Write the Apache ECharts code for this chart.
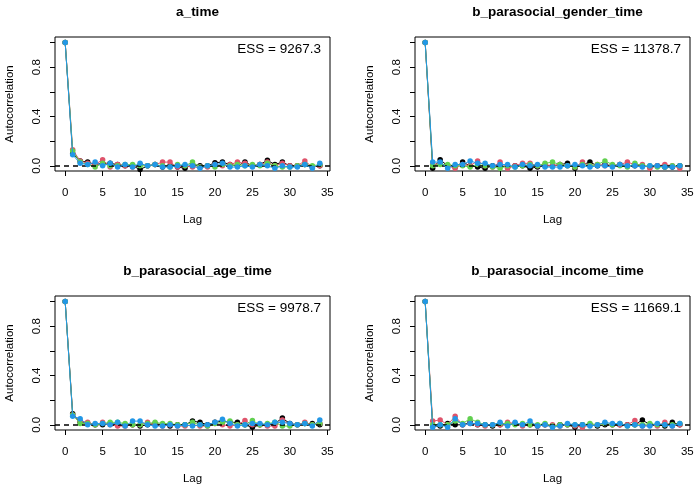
<!DOCTYPE html>
<html>
  <head>
    <meta charset="utf-8" />
    <title>Autocorrelation</title>
    <script src="https://cdn.jsdelivr.net/npm/echarts@6.0.0/dist/echarts.min.js"></script>
    <style>
      html, body { margin: 0; padding: 0; background: #fff; }
    </style>
  </head>
  <body>
    <div id="chart" style="width: 700px; height: 492px"></div>
    <script>
      /* ======= data ======= */
      var lags = [];
      for (var k = 0; k <= 34; k++) lags.push(k);

      var panelTitles = [
        "a_time",
        "b_parasocial_gender_time",
        "b_parasocial_age_time",
        "b_parasocial_income_time",
      ];
      var essLabels = ["ESS = 9267.3", "ESS = 11378.7", "ESS = 9978.7", "ESS = 11669.1"];
      var chainColors = ["#000000", "#DF536B", "#61D04F", "#2297E6"];
      var xTicks = [0, 5, 10, 15, 20, 25, 30, 35];
      var yTicks = [0, 0.2, 0.4, 0.6, 0.8, 1.0];
      var yLabels = [0, 0.4, 0.8];

      // a_time, chains 1-4
      var aTime = [
        [1, 0.10, 0.04, 0.03, 0.01, 0.02, 0.02, 0.01, 0.00, 0.00, -0.03, 0.00, 0.01, -0.01, 0.00, -0.01, -0.02, 0.01, 0.00, 0.00, 0.025, 0.03, 0.01, 0.00, 0.03, 0.00, 0.01, 0.045, 0.01, 0.03, 0.00, 0.00, 0.01, -0.01, 0.00],
        [1, 0.13, 0.04, 0.02, 0.01, 0.05, -0.01, 0.01, 0.00, -0.01, 0.01, 0.00, 0.01, 0.03, 0.03, -0.01, 0.00, -0.01, -0.01, -0.01, 0.01, 0.00, 0.01, 0.03, 0.02, 0.00, 0.01, 0.03, 0.00, 0.02, 0.00, 0.00, 0.04, -0.01, 0.00],
        [1, 0.12, 0.03, 0.01, -0.01, 0.02, 0.00, 0.00, 0.01, 0.01, 0.00, 0.00, 0.01, 0.00, -0.01, 0.01, 0.00, 0.03, -0.01, 0.00, -0.01, 0.01, 0.00, 0.01, 0.00, 0.01, 0.00, 0.02, 0.00, -0.01, -0.01, 0.00, 0.01, 0.00, 0.01],
        [1, 0.09, 0.02, 0.01, 0.03, 0.00, 0.02, -0.01, 0.01, -0.01, 0.02, 0.00, 0.01, -0.01, -0.01, 0.00, 0.01, 0.00, -0.02, 0.00, 0.01, 0.02, -0.01, -0.01, 0.00, -0.01, 0.01, 0.00, -0.02, 0.00, -0.01, -0.01, 0.01, -0.02, 0.02],
      ];
      // b_parasocial_gender_time
      var genderTime = [
        [1, -0.02, 0.05, 0.00, -0.01, 0.03, 0.00, -0.01, -0.02, 0.00, 0.00, -0.01, 0.00, 0.00, -0.02, -0.01, 0.00, 0.00, 0.01, 0.02, -0.02, 0.01, 0.03, 0.00, 0.01, 0.00, 0.01, 0.00, 0.00, 0.00, -0.01, 0.00, -0.01, -0.01, 0.00],
        [1, 0.01, 0.02, 0.00, -0.02, 0.01, 0.00, 0.04, 0.00, -0.01, 0.03, -0.02, 0.00, 0.02, 0.02, 0.00, 0.01, 0.00, 0.01, 0.00, -0.01, 0.03, 0.00, 0.01, 0.00, 0.00, 0.01, 0.03, 0.01, 0.01, -0.02, 0.00, 0.01, 0.00, -0.02],
        [1, 0.00, 0.01, 0.01, 0.00, 0.00, -0.01, 0.01, 0.00, -0.01, -0.02, 0.00, -0.01, 0.00, 0.01, 0.00, 0.02, 0.03, 0.01, 0.00, -0.01, 0.01, 0.00, 0.01, 0.04, 0.01, 0.00, -0.01, 0.02, 0.00, 0.00, -0.01, -0.01, 0.00, 0.00],
        [1, 0.03, 0.03, -0.02, 0.01, 0.01, 0.04, 0.02, 0.02, 0.00, 0.01, 0.01, -0.01, 0.01, 0.00, 0.01, -0.01, -0.01, -0.01, 0.00, 0.01, 0.00, -0.01, 0.00, 0.00, -0.01, 0.01, 0.00, 0.00, -0.01, 0.00, 0.00, -0.01, -0.01, 0.00],
      ];
      // b_parasocial_age_time
      var ageTime = [
        [1, 0.09, 0.02, 0.01, 0.00, 0.00, 0.01, 0.00, 0.00, 0.00, -0.01, 0.00, 0.01, 0.00, -0.01, 0.00, 0.00, 0.03, 0.02, 0.00, 0.02, 0.03, 0.02, 0.02, 0.00, -0.02, 0.00, 0.00, 0.01, 0.055, 0.01, 0.00, 0.01, 0.01, 0.00],
        [1, 0.08, 0.03, 0.02, 0.00, 0.02, 0.00, -0.01, -0.01, 0.00, 0.00, 0.02, 0.00, -0.01, 0.00, -0.01, -0.01, 0.00, -0.01, -0.01, 0.01, 0.00, -0.01, 0.00, 0.035, 0.00, 0.00, -0.01, -0.01, 0.04, 0.00, 0.00, 0.02, 0.00, 0.01],
        [1, 0.08, 0.01, 0.01, 0.00, 0.01, 0.02, 0.02, 0.01, 0.00, 0.00, 0.01, 0.02, 0.01, 0.01, 0.00, 0.00, 0.02, 0.00, -0.01, 0.01, 0.02, 0.03, 0.00, 0.00, 0.035, 0.00, 0.01, 0.02, -0.01, -0.01, 0.00, 0.01, 0.00, 0.01],
        [1, 0.07, 0.05, 0.00, 0.01, 0.01, 0.00, 0.02, -0.01, 0.03, 0.03, 0.00, -0.01, -0.01, 0.00, -0.01, 0.00, -0.01, 0.00, 0.00, 0.02, 0.045, 0.01, -0.01, 0.00, 0.01, 0.01, 0.00, 0.02, 0.02, 0.01, 0.00, 0.01, -0.01, 0.04],
      ];
      // b_parasocial_income_time
      var incomeTime = [
        [1, -0.01, -0.01, 0.01, 0.00, 0.00, 0.02, 0.00, 0.00, -0.01, 0.00, 0.00, 0.01, 0.00, 0.00, -0.01, 0.00, -0.01, 0.00, 0.00, -0.02, 0.00, 0.00, -0.01, 0.00, 0.00, 0.00, 0.00, 0.00, 0.04, 0.00, 0.00, -0.01, 0.02, 0.00],
        [1, 0.03, 0.04, 0.00, 0.07, 0.00, 0.01, 0.00, -0.01, 0.00, 0.00, 0.02, 0.01, -0.01, 0.00, -0.01, 0.00, 0.00, -0.01, 0.00, -0.01, -0.02, 0.00, 0.00, 0.01, 0.00, 0.00, 0.00, 0.035, -0.01, 0.00, -0.01, 0.02, -0.01, 0.00],
        [1, 0.00, 0.00, 0.00, 0.03, 0.01, 0.05, 0.02, 0.00, 0.00, 0.01, 0.01, 0.00, 0.01, 0.00, 0.00, 0.01, -0.01, 0.00, 0.00, 0.00, 0.00, 0.01, 0.00, 0.01, 0.00, 0.01, -0.01, 0.00, 0.00, 0.01, 0.00, 0.00, 0.00, 0.01],
        [1, -0.02, 0.00, -0.02, 0.05, 0.00, 0.01, 0.01, 0.00, 0.00, 0.02, -0.01, 0.02, 0.00, 0.03, -0.01, 0.00, -0.02, -0.01, 0.01, 0.00, 0.00, -0.01, 0.00, 0.02, 0.01, 0.01, -0.01, 0.00, -0.01, -0.01, 0.01, 0.00, -0.01, 0.01],
      ];
      var panels = [aTime, genderTime, ageTime, incomeTime];

      /* ======= layout ======= */
      var FONT = "Liberation Sans, Arial, sans-serif";
      var boxes = [
        { left: 55, top: 37 },
        { left: 415, top: 37 },
        { left: 55, top: 296 },
        { left: 415, top: 296 },
      ];
      var boxW = 275;
      var boxH = 134;

      var grids = [], xAxes = [], yAxes = [], titles = [], graphics = [], series = [];

      boxes.forEach(function(b, p) {
        grids.push({
          left: b.left, top: b.top, width: boxW, height: boxH,
          show: true, borderColor: "#000", borderWidth: 1, backgroundColor: "transparent",
        });
        xAxes.push({
          gridIndex: p, type: "value", min: -1.36, max: 35.36,
          name: "Lag", nameLocation: "middle", nameGap: 43,
          nameTextStyle: { fontFamily: FONT, fontSize: 11.5, color: "#000" },
          axisLine: { show: false, onZero: false },
          axisTick: { show: true, length: 5, customValues: xTicks, lineStyle: { color: "#000" } },
          axisLabel: { customValues: xTicks, margin: 16, fontFamily: FONT, fontSize: 11.5, color: "#000" },
          splitLine: { show: false },
        });
        yAxes.push({
          gridIndex: p, type: "value", min: -0.042, max: 1.045,
          name: "Autocorrelation", nameLocation: "middle", nameGap: 39, nameRotate: 90,
          nameTextStyle: { fontFamily: FONT, fontSize: 11.5, color: "#000" },
          axisLine: { show: false, onZero: false },
          axisTick: { show: true, length: 5, customValues: yTicks, lineStyle: { color: "#000" } },
          axisLabel: {
            customValues: yLabels, rotate: 90, margin: 12,
            fontFamily: FONT, fontSize: 11.5, color: "#000",
            formatter: function(v) { return v.toFixed(1); },
          },
          splitLine: { show: false },
        });
        titles.push({
          text: panelTitles[p],
          left: b.left + boxW / 2, top: b.top - 37, textAlign: "center",
          textStyle: { fontFamily: FONT, fontSize: 13.5, fontWeight: "bold", color: "#000" },
        });
        graphics.push({
          type: "text",
          x: b.left + boxW - 9, y: b.top + 12,
          style: {
            text: essLabels[p], fill: "#000", font: "13.5px " + FONT,
            textAlign: "right", textVerticalAlign: "middle",
          },
        });

        panels[p].forEach(function(chain, c) {
          var s = {
            type: "line",
            xAxisIndex: p, yAxisIndex: p,
            data: lags.map(function(l, i) { return [l, chain[i]]; }),
            symbol: "circle", symbolSize: 5.5, showSymbol: true,
            lineStyle: { color: chainColors[c], width: 1 },
            itemStyle: { color: chainColors[c] },
            silent: true,
            z: 2 + c,
          };
          if (c === 0) {
            s.markLine = {
              silent: true, symbol: "none", label: { show: false },
              lineStyle: { color: "#000", type: [5, 4], width: 1.5 },
              data: [{ yAxis: 0 }],
            };
          }
          series.push(s);
        });
      });

      var option = {
        animation: false,
        backgroundColor: "#fff",
        title: titles,
        grid: grids,
        xAxis: xAxes,
        yAxis: yAxes,
        graphic: graphics,
        series: series,
      };

      var chart = echarts.init(document.getElementById("chart"));
      chart.setOption(option);
    </script>
  </body>
</html>
